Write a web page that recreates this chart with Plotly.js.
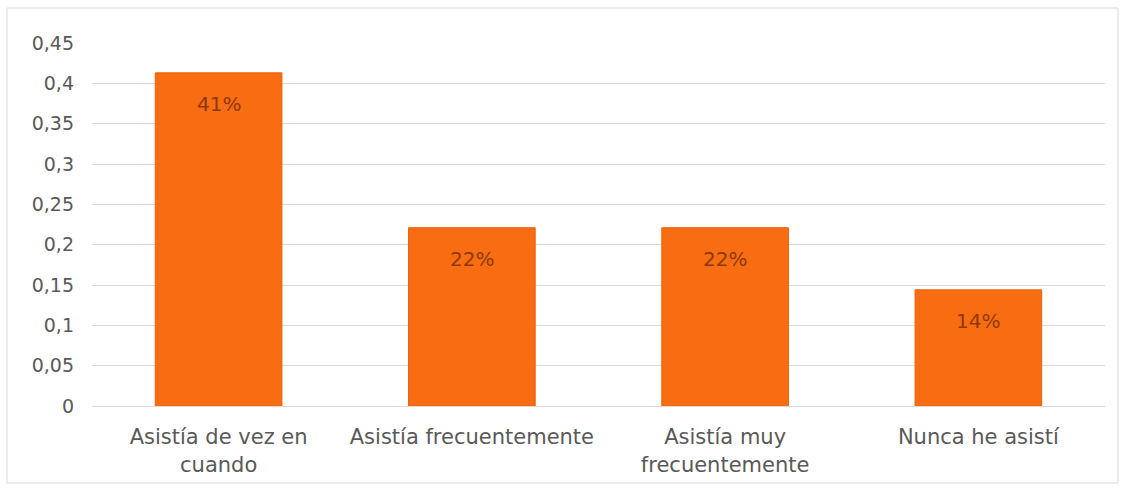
<!DOCTYPE html>
<html>
<head>
<meta charset="utf-8">
<script src="https://cdn.plot.ly/plotly-3.0.1.min.js"></script>
<style>
  html, body { margin: 0; padding: 0; background: #ffffff; }
  #chart { width: 1125px; height: 489px; }
</style>
</head>
<body>
<div id="chart"></div>
<script>
const categories = ["Asistía de vez en<br>cuando", "Asistía frecuentemente", "Asistía muy<br>frecuentemente", "Nunca he asistí"];
const values = [0.413, 0.221, 0.221, 0.144];
const yTicks = [0, 0.05, 0.1, 0.15, 0.2, 0.25, 0.3, 0.35, 0.4, 0.45];

const margin = {l: 92, r: 20, t: 43, b: 83};
const W = 1125, H = 489;
const pw = W - margin.l - margin.r, ph = H - margin.t - margin.b;
// frame border around the whole chart (in paper coords)
const fx0 = (7 - margin.l) / pw, fx1 = (1118 - margin.l) / pw;
const fy1 = (H - 8 - margin.b) / ph, fy0 = (H - 483 - margin.b) / ph;

const FONT = 'DejaVu Sans, Verdana, sans-serif';

const trace = {
  type: 'bar',
  x: categories,
  y: values,
  width: 0.5,
  marker: { color: '#F86D12', line: { color: '#EC620C', width: 1 } },
  hoverinfo: 'none'
};

const labels = categories.map((c, i) => ({
  x: c, y: values[i], xref: 'x', yref: 'y',
  text: Math.round(values[i] * 100) + '%',
  showarrow: false, yanchor: 'top', yshift: -17,
  font: { family: FONT, size: 20, color: '#8E380A' }
}));

const layout = {
  width: W, height: H,
  margin: margin,
  separators: ',.',
  paper_bgcolor: '#ffffff',
  plot_bgcolor: '#ffffff',
  showlegend: false,
  font: { family: FONT, color: '#595959' },
  xaxis: {
    showgrid: false,
    showline: true, linecolor: '#d9d9d9', linewidth: 1,
    ticks: '',
    tickfont: { family: FONT, size: 21, color: '#595959' },
    ticklabelstandoff: 12
  },
  yaxis: {
    range: [0, 0.45],
    tickvals: yTicks,
    showgrid: true, gridcolor: '#d9d9d9', gridwidth: 1,
    zeroline: true, zerolinecolor: '#d9d9d9',
    showline: false, ticks: '',
    tickfont: { family: FONT, size: 19, color: '#595959' },
    ticklabelstandoff: 17
  },
  annotations: labels,
  shapes: [{
    type: 'rect', xref: 'paper', yref: 'paper',
    x0: fx0, x1: fx1, y0: fy0, y1: fy1,
    line: { color: '#d9d9d9', width: 1 }, layer: 'below'
  }]
};

Plotly.newPlot('chart', [trace], layout, { displayModeBar: false, staticPlot: true });
</script>
</body>
</html>
